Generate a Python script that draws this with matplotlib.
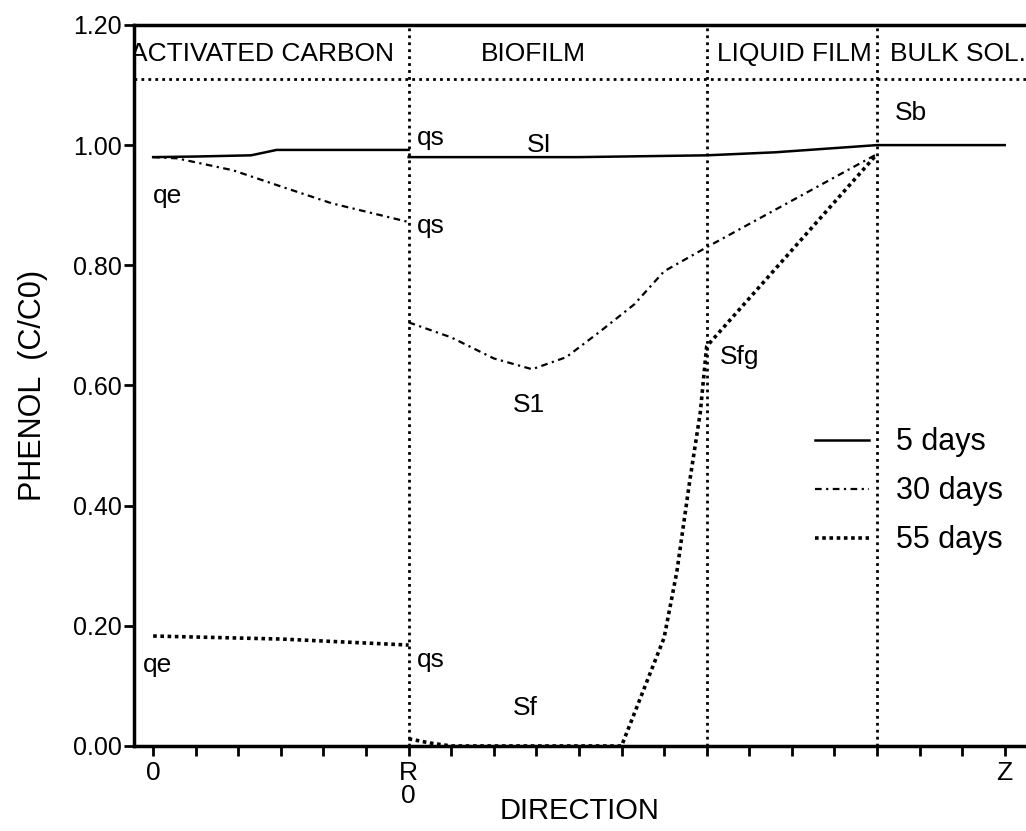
import numpy as np
import matplotlib.pyplot as plt
from matplotlib.lines import Line2D

# distance along the direction, in tick units (0 = carbon centre, 6 = R, 20 = Z)
x_carbon_5 = [0, 1, 2.3, 2.9, 4, 6]
top_carbon = [0.98, 0.981, 0.983, 0.992, 0.992, 0.992]
x_carbon_30 = [0, 0.56, 1.88, 3.05, 4.2, 6]
mid_carbon = [0.98, 0.978, 0.958, 0.93, 0.903, 0.872]
x_carbon_55 = [0, 3, 6]
low_carbon = [0.183, 0.178, 0.168]

x_top_film = [6, 10, 13, 14.6, 17, 20]
top_film = [0.98, 0.98, 0.983, 0.988, 1.0, 1.0]

x_mid_film = [6, 7, 8, 8.9, 9.7, 10.5, 11.3, 12, 13, 17]
mid_film = [0.705, 0.68, 0.645, 0.627, 0.647, 0.69, 0.735, 0.79, 0.83, 0.985]

x_low_film = [6, 6.5, 7, 11, 11.5, 12, 12.3, 12.6, 12.85, 13, 17]
low_film = [0.012, 0.005, 0.0, 0.0, 0.09, 0.18, 0.29, 0.44, 0.555, 0.665, 0.985]

zones = ["ACTIVATED CARBON", "BIOFILM", "LIQUID FILM", "BULK SOL."]
zone_x = [-0.55, 8.94, 15.07, 17.3]
zone_ha = ['left', 'center', 'center', 'left']
boundaries = [6, 13, 17]
legend_labels = ["5 days", "30 days", "55 days"]
y_ticks = [0.0, 0.2, 0.4, 0.6, 0.8, 1.0, 1.2]

plt.rcParams['font.family'] = ['Liberation Sans', 'DejaVu Sans']

fig = plt.figure(figsize=(10.26, 8.31), dpi=100)
ax = fig.add_axes([0.1306, 0.1023, 0.8694, 0.8677])

s5 = dict(color='black', lw=1.8, ls='-')
s30 = dict(color='black', lw=1.6, ls=(0, (3, 2, 1, 2)))
s55 = dict(color='black', lw=2.6, ls=(0, (1, 1)))

ax.plot(x_carbon_5, top_carbon, **s5)
ax.plot(x_top_film, top_film, **s5)
ax.plot(x_carbon_30, mid_carbon, **s30)
ax.plot(x_mid_film, mid_film, **s30)
ax.plot(x_carbon_55, low_carbon, **s55)
ax.plot(x_low_film, low_film, **s55)

# zone boundaries and header band
for b in boundaries:
    ax.axvline(b, color='black', lw=2.0, ls=(0, (1, 1.5)))
ax.axhline(1.11, color='black', lw=2.0, ls=(0, (1, 1.5)))
for name, zx, ha in zip(zones, zone_x, zone_ha):
    ax.text(zx, 1.152, name, fontsize=19, ha=ha, va='center', clip_on=True)

# point labels
labels = [
    (0.0, 0.915, "qe"), (6.2, 1.012, "qs"), (8.78, 1.0, "SI"),
    (6.2, 0.865, "qs"), (8.45, 0.567, "S1"), (13.3, 0.648, "Sfg"),
    (17.42, 1.053, "Sb"), (-0.23, 0.135, "qe"), (6.2, 0.143, "qs"),
    (8.45, 0.063, "Sf"),
]
for lx, ly, t in labels:
    ax.text(lx, ly, t, fontsize=19, ha='left', va='center')

handles = [Line2D([], [], **s) for s in (s5, s30, s55)]
ax.legend(handles, legend_labels, loc='upper left', bbox_to_anchor=(0.7635, 0.4417),
          frameon=False, fontsize=22, handlelength=1.75, handletextpad=0.9,
          labelspacing=0.62, borderpad=0, borderaxespad=0)

ax.set_xlim(-0.45, 20.5)
ax.set_ylim(0, 1.2)
ax.set_yticks(y_ticks)
ax.set_yticklabels([f"{v:.2f}" for v in y_ticks], fontsize=18)
ax.set_xticks(np.arange(0, 21))
xt = [''] * 21
xt[0], xt[6], xt[20] = "0", "R\n0", "Z"
ax.set_xticklabels(xt, fontsize=19, linespacing=0.95)
ax.tick_params(axis='both', direction='out', length=7, width=2)
ax.tick_params(axis='y', pad=2)

for side in ('top', 'left', 'bottom'):
    ax.spines[side].set_linewidth(2.5)
ax.spines['right'].set_visible(False)

ax.set_ylabel("PHENOL  (C/C0)", fontsize=22)
ax.yaxis.set_label_coords(-0.0964, 0.5)
ax.set_xlabel("DIRECTION", fontsize=21)
ax.xaxis.set_label_coords(0.5, -0.0707)

fig.savefig("out.png", dpi=100)
